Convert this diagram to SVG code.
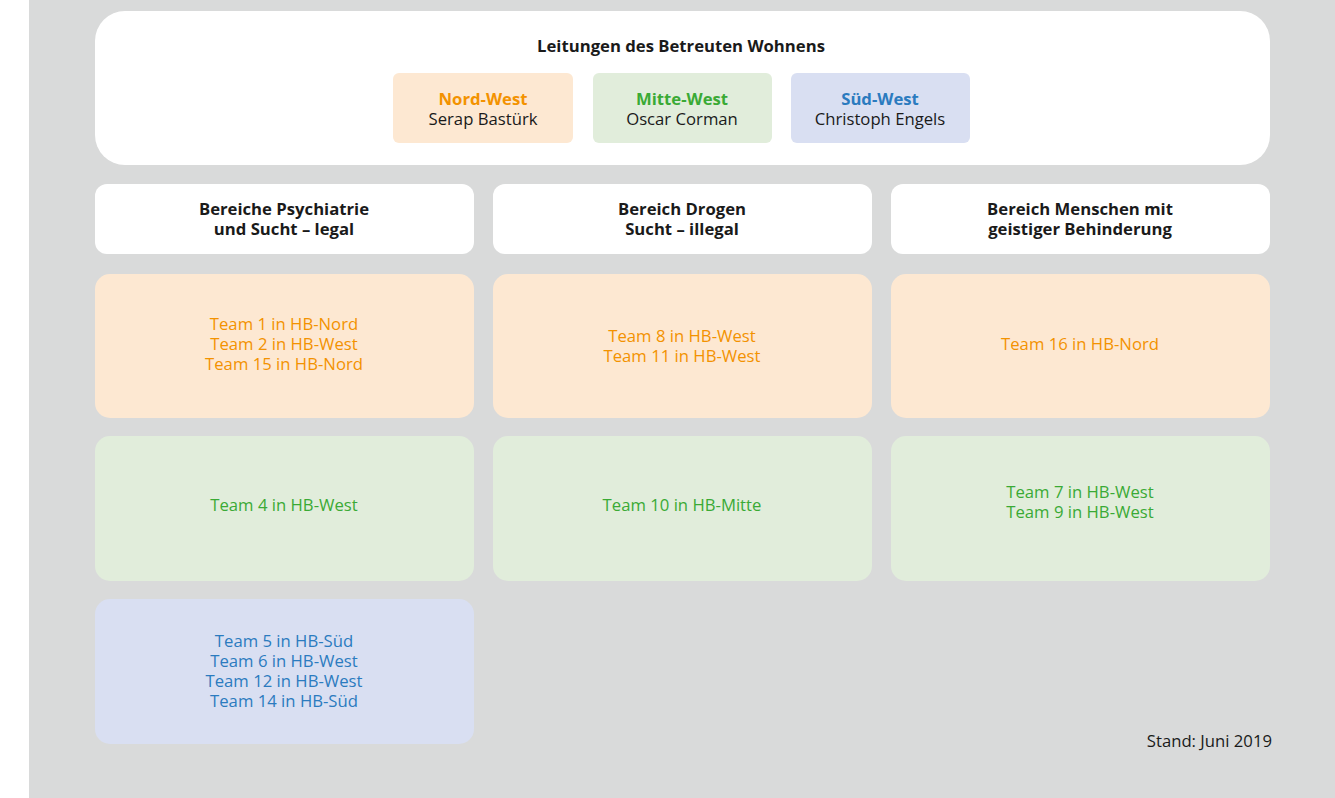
<svg xmlns="http://www.w3.org/2000/svg" width="1335" height="798" viewBox="0 0 1335 798">
<style>
text{font-family:"Open Sans","Noto Sans","Liberation Sans",sans-serif;font-size:16.7px;text-anchor:middle}
.b{font-weight:bold;fill:#1a1a1a}
.k{fill:#1a1a1a}
.o{fill:#F39200}
.g{fill:#3AAA35}
.u{fill:#2B7BBF}
.fo{fill:#FDE8D2}
.fg{fill:#E1EDDB}
.fu{fill:#D9DFF2}
</style>
<rect x="0" y="0" width="1335" height="798" fill="#ffffff"/>
<rect x="29" y="0" width="1306" height="798" fill="#D9DADA"/>
<g id="leitung">
<rect x="95" y="11" width="1175" height="154" rx="30" fill="#ffffff"/>
<text class="b" x="681" y="52">Leitungen des Betreuten Wohnens</text>
</g>
<g id="nordwest">
<rect class="fo" x="393" y="73" width="180" height="70" rx="6"/>
<text class="o" x="483" y="105" font-weight="bold">Nord-West</text>
<text class="k" x="483" y="125">Serap Bastürk</text>
</g>
<g id="mittewest">
<rect class="fg" x="593" y="73" width="179" height="70" rx="6"/>
<text class="g" x="682" y="105" font-weight="bold">Mitte-West</text>
<text class="k" x="682" y="125">Oscar Corman</text>
</g>
<g id="suedwest">
<rect class="fu" x="791" y="73" width="179" height="70" rx="6"/>
<text class="u" x="880" y="105" font-weight="bold">Süd-West</text>
<text class="k" x="880" y="125">Christoph Engels</text>
</g>
<g id="h1">
<rect x="95" y="184" width="379" height="70" rx="12" fill="#ffffff"/>
<text class="b" x="284" y="215">Bereiche Psychiatrie</text>
<text class="b" x="284" y="235">und Sucht – legal</text>
</g>
<g id="h2">
<rect x="493" y="184" width="379" height="70" rx="12" fill="#ffffff"/>
<text class="b" x="682" y="215">Bereich Drogen</text>
<text class="b" x="682" y="235">Sucht – illegal</text>
</g>
<g id="h3">
<rect x="891" y="184" width="379" height="70" rx="12" fill="#ffffff"/>
<text class="b" x="1080" y="215">Bereich Menschen mit</text>
<text class="b" x="1080" y="235">geistiger Behinderung</text>
</g>
<g id="t1">
<rect class="fo" x="95" y="274" width="379" height="144" rx="15"/>
<text class="o" x="284" y="330">Team 1 in HB-Nord</text>
<text class="o" x="284" y="350">Team 2 in HB-West</text>
<text class="o" x="284" y="370">Team 15 in HB-Nord</text>
</g>
<g id="t2">
<rect class="fo" x="493" y="274" width="379" height="144" rx="15"/>
<text class="o" x="682" y="342">Team 8 in HB-West</text>
<text class="o" x="682" y="362">Team 11 in HB-West</text>
</g>
<g id="t3">
<rect class="fo" x="891" y="274" width="379" height="144" rx="15"/>
<text class="o" x="1080" y="350">Team 16 in HB-Nord</text>
</g>
<g id="t4">
<rect class="fg" x="95" y="436" width="379" height="145" rx="15"/>
<text class="g" x="284" y="511">Team 4 in HB-West</text>
</g>
<g id="t5">
<rect class="fg" x="493" y="436" width="379" height="145" rx="15"/>
<text class="g" x="682" y="511">Team 10 in HB-Mitte</text>
</g>
<g id="t6">
<rect class="fg" x="891" y="436" width="379" height="145" rx="15"/>
<text class="g" x="1080" y="498">Team 7 in HB-West</text>
<text class="g" x="1080" y="518">Team 9 in HB-West</text>
</g>
<g id="t7">
<rect class="fu" x="95" y="599" width="379" height="145" rx="15"/>
<text class="u" x="284" y="647">Team 5 in HB-Süd</text>
<text class="u" x="284" y="667">Team 6 in HB-West</text>
<text class="u" x="284" y="687">Team 12 in HB-West</text>
<text class="u" x="284" y="707">Team 14 in HB-Süd</text>
</g>
<g id="connectors"></g>
<text class="k" x="1272" y="747" style="text-anchor:end">Stand: Juni 2019</text>
</svg>
